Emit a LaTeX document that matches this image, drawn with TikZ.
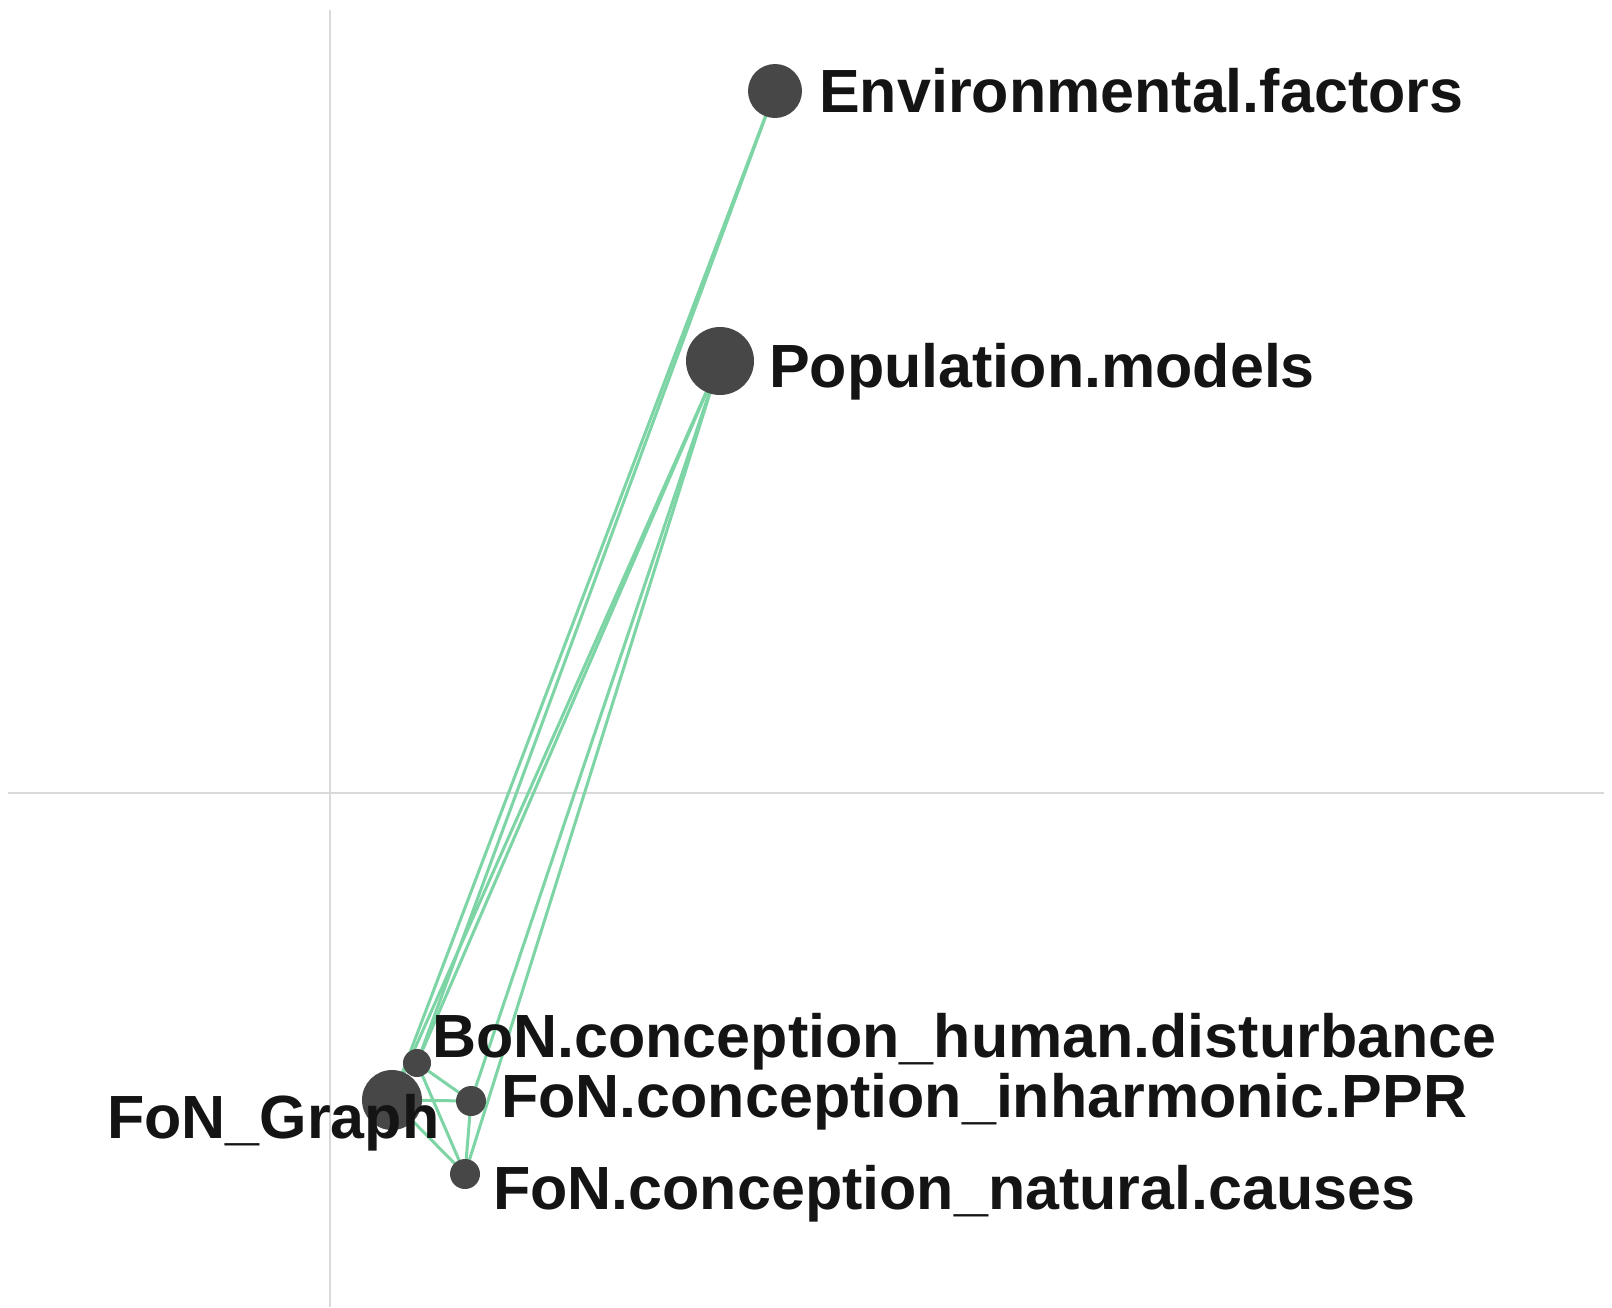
\documentclass[tikz,border=0pt]{standalone}
\usepackage{fontspec}
\setmainfont{Liberation Sans}
\definecolor{edgegreen}{RGB}{125,212,165}
\begin{document}
\begin{tikzpicture}[x=1pt,y=-1pt,
  axis/.style={draw=black!15,line width=2.5pt},
  edge/.style={draw=edgegreen,line width=3pt},
  vtx/.style={circle,fill=black!72,inner sep=0pt},
  lbl/.style={anchor=base west,inner sep=0pt,font=\fontsize{61}{70}\selectfont\bfseries,text=black!92}]
\useasboundingbox (0,0) rectangle (1612,1307);
\fill[white] (0,0) rectangle (1612,1307);
% axes
\coordinate (vt) at (330,10);
\coordinate (vb) at (330,1307);
\coordinate (hl) at (8,793);
\coordinate (hr) at (1604,793);
\draw[axis] (vt) -- (vb);
\draw[axis] (hl) -- (hr);
% vertex positions
\coordinate (env) at (775,91);
\coordinate (pop) at (720,361);
\coordinate (fon) at (392,1100);
\coordinate (bon) at (417,1063);
\coordinate (inh) at (471,1101);
\coordinate (nat) at (465,1174);
% edges
\draw[edge] (env) -- (fon);
\draw[edge] (env) -- (bon);
\draw[edge] (pop) -- (fon);
\draw[edge] (pop) -- (bon);
\draw[edge] (pop) -- (inh);
\draw[edge] (pop) -- (nat);
\draw[edge] (fon) -- (inh);
\draw[edge] (fon) -- (nat);
\draw[edge] (bon) -- (inh);
\draw[edge] (bon) -- (nat);
\draw[edge] (inh) -- (nat);
% vertices
\node[vtx,minimum size=54pt] (venv) at (env) {};
\node[vtx,minimum size=68pt] (vpop) at (pop) {};
\node[vtx,minimum size=60pt] (vfon) at (fon) {};
\node[vtx,minimum size=28pt] (vbon) at (bon) {};
\node[vtx,minimum size=30pt] (vinh) at (inh) {};
\node[vtx,minimum size=30pt] (vnat) at (nat) {};
% labels
\node[lbl] (lenv) at (819,112) {Environmental.factors};
\node[lbl] (lpop) at (769,387) {Population.models};
\node[lbl] (lbon) at (432,1057) {BoN.conception\_human.disturbance};
\node[lbl] (linh) at (501,1117) {FoN.conception\_inharmonic.PPR};
\node[lbl] (lnat) at (493,1209) {FoN.conception\_natural.causes};
\node[lbl] (lfon) at (107,1138) {FoN\_Graph};
\end{tikzpicture}
\end{document}
